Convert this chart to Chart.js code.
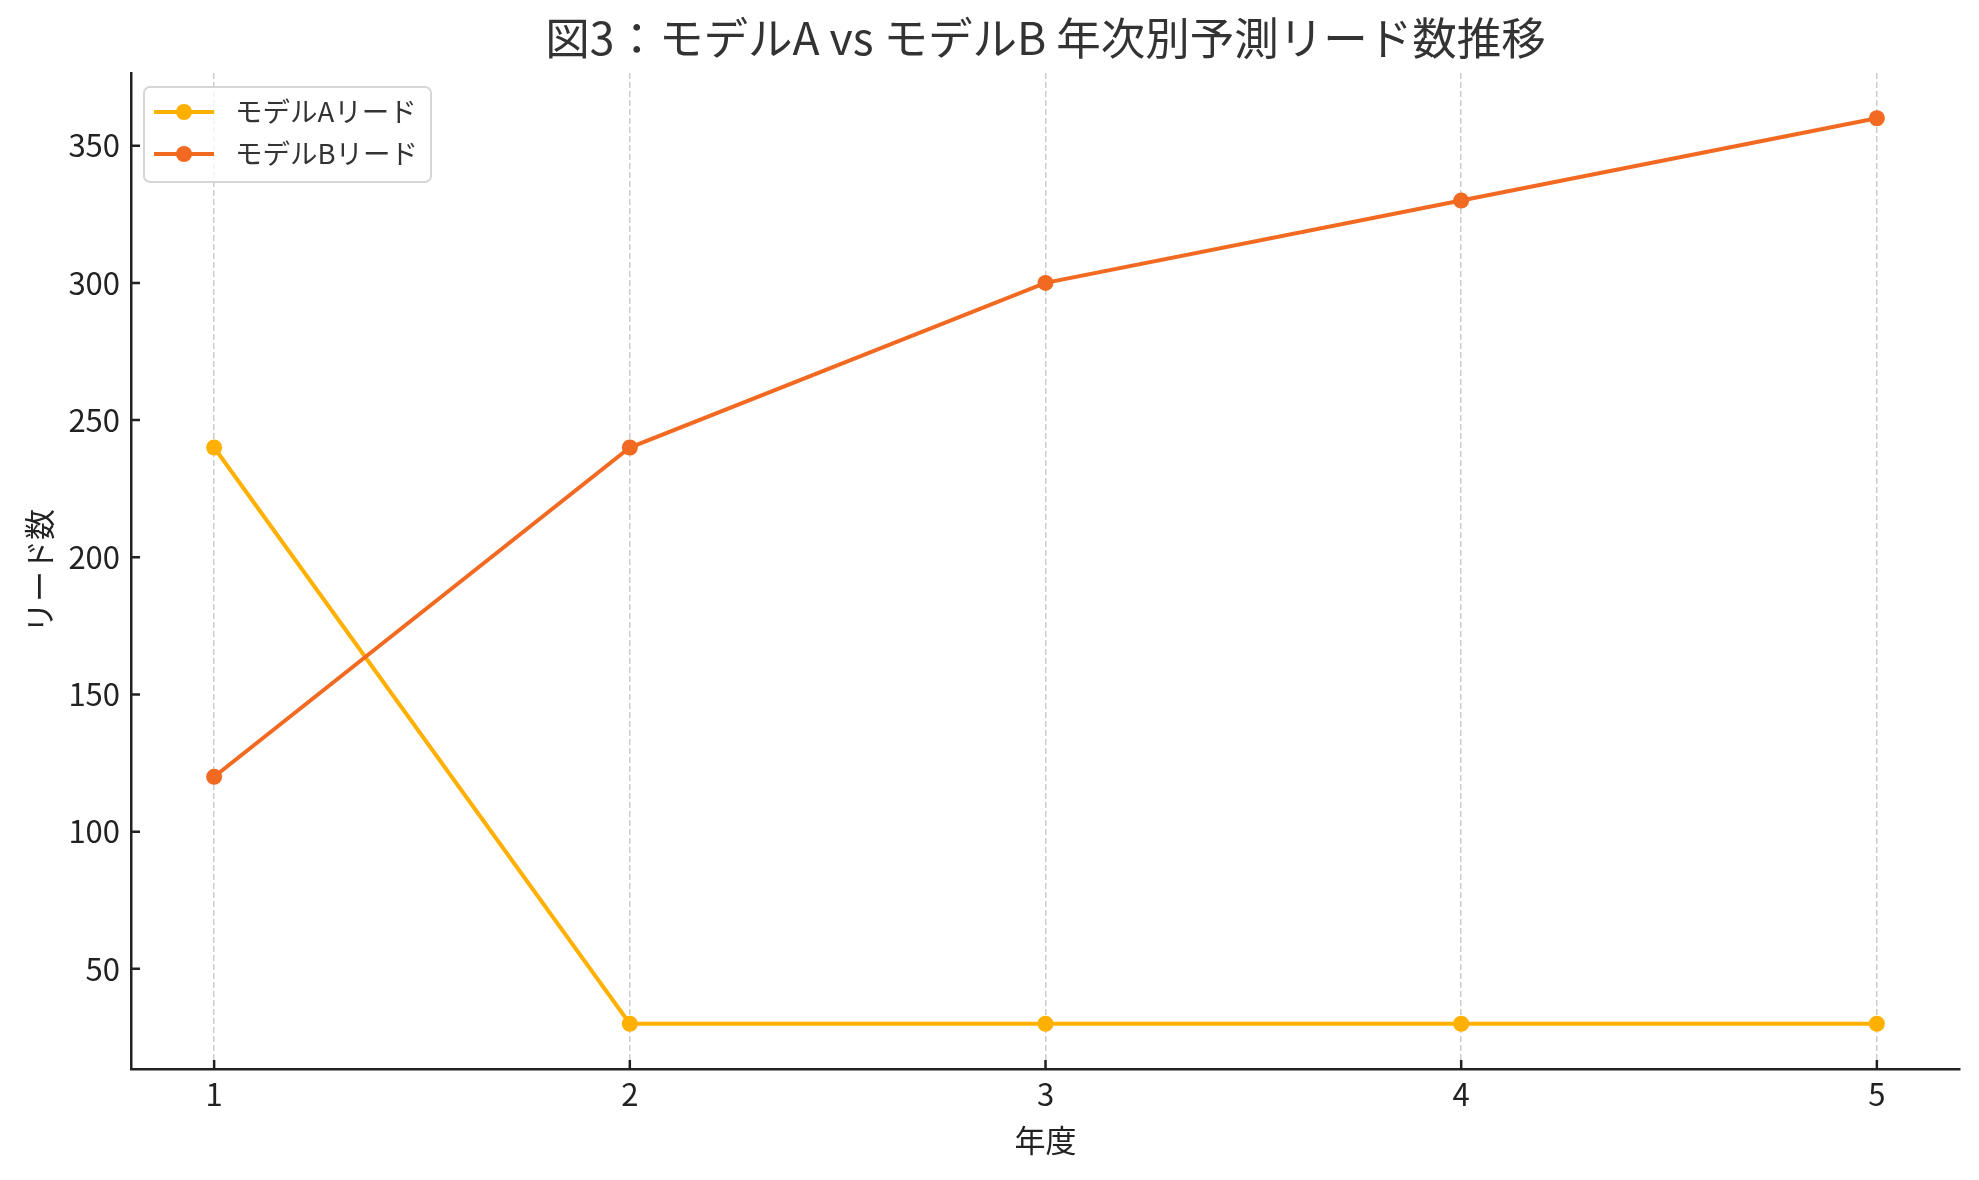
<!DOCTYPE html>
<html lang="ja">
<head>
<meta charset="utf-8">
<title>図3：モデルA vs モデルB 年次別予測リード数推移</title>
<script src="https://cdn.jsdelivr.net/npm/chart.js@4/dist/chart.umd.min.js"></script>
<style>
    html, body { margin: 0; padding: 0; background: #ffffff; }
    #wrap { position: relative; width: 1979px; height: 1180px; }
</style>
</head>
<body>
<div id="wrap"><canvas id="leadChart"></canvas></div>
<script>
// DATOS
const chartTitle = '図3：モデルA vs モデルB 年次別予測リード数推移';
const years = [1, 2, 3, 4, 5];
const modelA = [240, 30, 30, 30, 30];
const modelB = [120, 240, 300, 330, 360];
const seriesNames = ['モデルAリード', 'モデルBリード'];
const xTicks = [1, 2, 3, 4, 5];
const yTicks = [50, 100, 150, 200, 250, 300, 350];
const xLabel = '年度';
const yLabel = 'リード数';

const colorA = '#FFB000';
const colorB = '#F26A21';
const axisColor = '#222222';

Chart.defaults.font.family = '"Noto Sans CJK JP", "Noto Sans", sans-serif';
Chart.defaults.color = '#222222';

// TITULO
const titlePlugin = {
    id: 'plotTitle',
    afterDraw(chart) {
        const ctx = chart.ctx;
        const area = chart.chartArea;
        ctx.save();
        ctx.font = '44.5px "Noto Sans CJK JP"';
        ctx.fillStyle = '#333333';
        ctx.textAlign = 'center';
        ctx.textBaseline = 'middle';
        ctx.fillText(chartTitle, (area.left + area.right) / 2, 38);
        ctx.restore();
    }
};

// MARCAS DE LOS EJES HACIA DENTRO
const tickPlugin = {
    id: 'innerTicks',
    beforeDatasetsDraw(chart) {
        const ctx = chart.ctx;
        const area = chart.chartArea;
        const len = 9;
        ctx.save();
        ctx.strokeStyle = axisColor;
        ctx.lineWidth = 2.5;
        ctx.beginPath();
        xTicks.forEach(v => {
            const x = chart.scales.x.getPixelForValue(v);
            ctx.moveTo(x, area.bottom);
            ctx.lineTo(x, area.bottom - len);
        });
        yTicks.forEach(v => {
            const y = chart.scales.y.getPixelForValue(v);
            ctx.moveTo(area.left, y);
            ctx.lineTo(area.left + len, y);
        });
        ctx.stroke();
        ctx.restore();
    }
};

// LEYENDA
const legendPlugin = {
    id: 'boxLegend',
    afterDraw(chart) {
        const ctx = chart.ctx;
        const bx = 144, by = 87, bw = 287, bh = 95, r = 6;
        ctx.save();
        ctx.fillStyle = 'rgba(255,255,255,0.8)';
        ctx.strokeStyle = '#d6d6d6';
        ctx.lineWidth = 2;
        ctx.beginPath();
        ctx.roundRect(bx, by, bw, bh, r);
        ctx.fill();
        ctx.stroke();
        chart.data.datasets.forEach((ds, i) => {
            const y = 112 + i * 42;
            ctx.strokeStyle = ds.borderColor;
            ctx.lineWidth = 4;
            ctx.beginPath();
            ctx.moveTo(154, y);
            ctx.lineTo(214, y);
            ctx.stroke();
            ctx.fillStyle = ds.borderColor;
            ctx.beginPath();
            ctx.arc(184, y, 8, 0, Math.PI * 2);
            ctx.fill();
            ctx.fillStyle = '#333333';
            ctx.font = '27.5px "Noto Sans CJK JP"';
            ctx.textAlign = 'left';
            ctx.textBaseline = 'middle';
            ctx.fillText(ds.label, 235, y);
        });
        ctx.restore();
    }
};

function makeSeries(values) {
    return years.map((yr, i) => ({ x: yr, y: values[i] }));
}

const ctx = document.getElementById('leadChart').getContext('2d');
new Chart(ctx, {
    type: 'line',
    data: {
        datasets: [{
            label: seriesNames[0],
            data: makeSeries(modelA),
            borderColor: colorA,
            backgroundColor: colorA,
            borderWidth: 4,
            pointRadius: 8,
            pointBorderWidth: 0,
            tension: 0,
            order: 2
        }, {
            label: seriesNames[1],
            data: makeSeries(modelB),
            borderColor: colorB,
            backgroundColor: colorB,
            borderWidth: 4,
            pointRadius: 8,
            pointBorderWidth: 0,
            tension: 0,
            order: 1
        }]
    },
    options: {
        responsive: true,
        maintainAspectRatio: false,
        animation: false,
        devicePixelRatio: 1,
        layout: {
            padding: { left: 0, right: 19, top: 73, bottom: 0 }
        },
        scales: {
            x: {
                type: 'linear',
                min: 0.8,
                max: 5.2,
                afterBuildTicks: scale => { scale.ticks = xTicks.map(v => ({ value: v })); },
                afterFit: scale => { scale.height = 111; },
                ticks: {
                    font: { size: 31 },
                    color: '#222222',
                    padding: 7,
                    maxRotation: 0
                },
                grid: {
                    drawTicks: false,
                    color: '#cccccc',
                    lineWidth: 1.5
                },
                border: {
                    display: true,
                    color: axisColor,
                    width: 2.5,
                    dash: [6, 3]
                },
                title: {
                    display: true,
                    text: xLabel,
                    font: { size: 31 },
                    color: '#222222',
                    padding: { top: 0, bottom: 21 }
                }
            },
            y: {
                type: 'linear',
                min: 13.5,
                max: 376.5,
                afterBuildTicks: scale => { scale.ticks = yTicks.map(v => ({ value: v })); },
                afterFit: scale => { scale.width = 131; },
                ticks: {
                    font: { size: 31 },
                    color: '#222222',
                    padding: 11
                },
                grid: {
                    drawTicks: false,
                    drawOnChartArea: false
                },
                border: {
                    display: true,
                    color: axisColor,
                    width: 2.5
                },
                title: {
                    display: true,
                    text: yLabel,
                    font: { size: 31 },
                    color: '#222222',
                    padding: { top: 21, bottom: 0 }
                }
            }
        },
        plugins: {
            legend: { display: false },
            title: { display: false },
            tooltip: { enabled: false }
        }
    },
    plugins: [titlePlugin, tickPlugin, legendPlugin]
});
</script>
</body>
</html>
